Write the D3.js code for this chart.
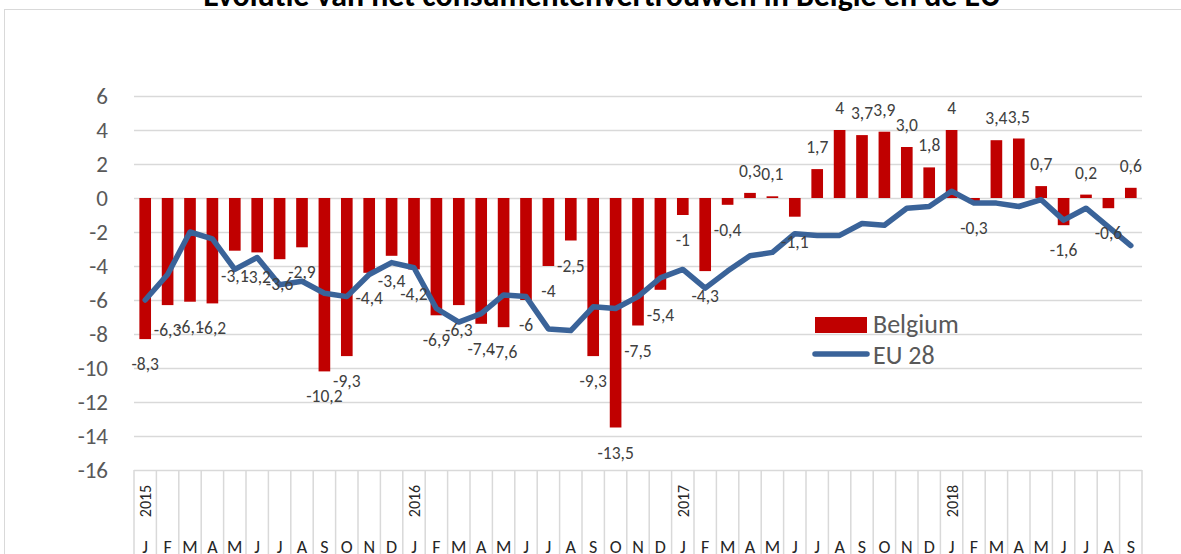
<!DOCTYPE html>
<html>
<head>
<meta charset="utf-8">
<script src="https://cdn.jsdelivr.net/npm/d3@7"></script>
<style>
  body { margin: 0; background: #fff; }
  svg { display: block; font-family: Carlito, Calibri, Lato, sans-serif; }
</style>
</head>
<body>
<svg id="chart" width="1181" height="554"></svg>
<script>
'use strict';

// data: consumer confidence, Jan 2015 - Sep 2018
var months = ['J','F','M','A','M','J','J','A','S','O','N','D',
              'J','F','M','A','M','J','J','A','S','O','N','D',
              'J','F','M','A','M','J','J','A','S','O','N','D',
              'J','F','M','A','M','J','J','A','S'];
var years = ['2015', '2016', '2017', '2018'];

var belgium = [-8.3, -6.3, -6.1, -6.2, -3.1, -3.2, -3.6, -2.9, -10.2, -9.3, -4.4, -3.4,
               -4.2, -6.9, -6.3, -7.4, -7.6, -6, -4, -2.5, -9.3, -13.5, -7.5, -5.4,
               -1, -4.3, -0.4, 0.3, 0.1, -1.1, 1.7, 4, 3.7, 3.9, 3.0, 1.8,
               4, -0.3, 3.4, 3.5, 0.7, -1.6, 0.2, -0.6, 0.6];
var belgiumLabels = ['-8,3','-6,3','-6,1','-6,2','-3,1','-3,2','-3,6','-2,9','-10,2','-9,3','-4,4','-3,4',
                     '-4,2','-6,9','-6,3','-7,4','-7,6','-6','-4','-2,5','-9,3','-13,5','-7,5','-5,4',
                     '-1','-4,3','-0,4','0,3','0,1','-1,1','1,7','4','3,7','3,9','3,0','1,8',
                     '4','-0,3','3,4','3,5','0,7','-1,6','0,2','-0,6','0,6'];
var eu28 = [-6.0, -4.5, -2.0, -2.4, -4.2, -3.5, -5.1, -4.9, -5.6, -5.8, -4.5, -3.8,
            -4.1, -6.5, -7.3, -6.8, -5.7, -5.8, -7.7, -7.8, -6.4, -6.5, -5.8, -4.7,
            -4.2, -5.3, -4.3, -3.4, -3.2, -2.1, -2.2, -2.2, -1.5, -1.6, -0.6, -0.5,
            0.4, -0.3, -0.3, -0.5, -0.1, -1.3, -0.6, -1.7, -2.8];
var yTicks = [6, 4, 2, 0, -2, -4, -6, -8, -10, -12, -14, -16];

var plotLeft = 134, plotRight = 1142, plotTop = 96, plotBottom = 470;
var idx = d3.range(months.length);

var svg = d3.select('#chart');

// outer chart border (runs off the picture)
svg.append('rect')
    .attr('x', 4.5).attr('y', 9.5)
    .attr('width', 1300).attr('height', 700)
    .attr('fill', 'none')
    .attr('stroke', '#d9d9d9');

// title, cut off at top
var title = svg.append('text')
    .attr('x', 602).attr('y', 6)
    .attr('text-anchor', 'middle')
    .attr('font-weight', 'bold')
    .attr('font-size', 24)
    .attr('fill', '#000')
    .text('Evolutie van het consumentenvertrouwen in België en de EU');
var tl = title.node().getComputedTextLength();
title.attr('font-size', 24 * 798 / tl);

var x = d3.scaleBand()
    .domain(idx)
    .range([plotLeft, plotRight])
    .paddingInner(0.48)
    .paddingOuter(0.24);

var y = d3.scaleLinear()
    .domain([-16, 6])
    .range([plotBottom, plotTop]);

// gridlines + y labels
var yAxis = d3.axisLeft(y)
    .tickValues(yTicks)
    .tickSize(-(plotRight - plotLeft))
    .tickPadding(26)
    .tickFormat(function(d) { return String(d); });

var gy = svg.append('g')
    .attr('transform', 'translate(' + plotLeft + ',0)')
    .call(yAxis);
gy.select('.domain').remove();
gy.selectAll('line').attr('stroke', '#d9d9d9').attr('stroke-width', 1.5);
gy.selectAll('text')
    .attr('fill', '#595959')
    .attr('font-size', 23)
    .attr('font-family', 'Carlito, Calibri, Lato, sans-serif');

// category dividers
var step = x.step();
var slotLeft = function(i) { return plotLeft + i * step; };
svg.append('g')
    .selectAll('line')
    .data(d3.range(months.length + 1))
    .enter().append('line')
      .attr('x1', function(d) { return slotLeft(d); })
      .attr('x2', function(d) { return slotLeft(d); })
      .attr('y1', plotBottom)
      .attr('y2', 560)
      .attr('stroke', '#d9d9d9')
      .attr('stroke-width', 1.5);

// month letters
svg.append('g')
    .selectAll('text')
    .data(idx)
    .enter().append('text')
      .attr('x', function(i) { return x(i) + x.bandwidth() / 2; })
      .attr('y', 553)
      .attr('text-anchor', 'middle')
      .attr('font-size', 18)
      .attr('fill', '#262626')
      .text(function(i) { return months[i]; });

// years, rotated
svg.append('g')
    .selectAll('text')
    .data(years)
    .enter().append('text')
      .attr('transform', function(d, k) {
        var cx = x(k * 12) + x.bandwidth() / 2 + 6;
        return 'translate(' + cx + ',501) rotate(-90)';
      })
      .attr('text-anchor', 'middle')
      .attr('font-size', 16)
      .attr('fill', '#262626')
      .text(function(d) { return d; });

// Belgium bars
svg.append('g')
    .selectAll('rect')
    .data(idx)
    .enter().append('rect')
      .attr('x', function(i) { return x(i); })
      .attr('y', function(i) { return y(Math.max(0, belgium[i])); })
      .attr('width', x.bandwidth())
      .attr('height', function(i) { return Math.abs(y(belgium[i]) - y(0)); })
      .attr('fill', '#c00000');

// EU 28 line
var line = d3.line()
    .x(function(i) { return x(i) + x.bandwidth() / 2; })
    .y(function(i) { return y(eu28[i]); });

svg.append('path')
    .attr('d', line(idx))
    .attr('fill', 'none')
    .attr('stroke', '#3a6399')
    .attr('stroke-width', 5.5)
    .attr('stroke-linejoin', 'round')
    .attr('stroke-linecap', 'round');

// data labels
svg.append('g')
    .selectAll('text')
    .data(idx)
    .enter().append('text')
      .attr('x', function(i) { return x(i) + x.bandwidth() / 2; })
      .attr('y', function(i) {
        var v = belgium[i];
        return v >= 0 ? y(v) - 16 : y(v) + 31;
      })
      .attr('text-anchor', 'middle')
      .attr('font-size', 17.5)
      .attr('fill', '#404040')
      .text(function(i) { return belgiumLabels[i]; });

// legend
var lg = svg.append('g');
lg.append('rect')
    .attr('x', 815).attr('y', 317)
    .attr('width', 52).attr('height', 16)
    .attr('fill', '#c00000');
lg.append('text')
    .attr('x', 873).attr('y', 333)
    .attr('font-size', 26)
    .attr('fill', '#595959')
    .text('Belgium');
lg.append('line')
    .attr('x1', 815).attr('x2', 867)
    .attr('y1', 354).attr('y2', 354)
    .attr('stroke', '#3a6399')
    .attr('stroke-width', 5.5)
    .attr('stroke-linecap', 'round');
lg.append('text')
    .attr('x', 873).attr('y', 364)
    .attr('font-size', 26)
    .attr('fill', '#595959')
    .text('EU 28');
</script>
</body>
</html>
